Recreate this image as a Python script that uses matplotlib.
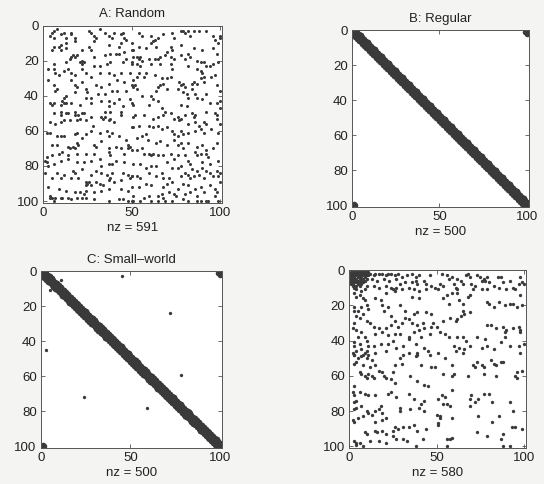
import numpy as np
import matplotlib
matplotlib.use('Agg')
import matplotlib.pyplot as plt

plt.rcParams['font.family'] = ['Liberation Sans', 'DejaVu Sans']

N = 100  # matrix size

# nonzeros, stored as (col, row), 0-based
random_nz = [
    (4,3),(5,2),(7,1),(3,5),(5,6),(9,4),(11,3),(12,6),(15,4),(15,3),(17,6),(25,2),(26,3),(28,5),(29,6),(31,1),(34,3),(36,5),(38,6),(39,3),
    (43,4),(44,3),(45,6),(46,7),(49,9),(43,9),(42,11),(36,10),(28,8),(17,8),(12,9),(9,10),(8,11),(5,11),(4,13),(9,13),(12,12),(16,16),(17,17),(15,17),
    (14,18),(18,16),(21,13),(25,11),(26,13),(28,17),(34,16),(37,15),(40,15),(42,15),(45,14),(49,13),(50,17),(46,18),(44,20),(49,21),(20,20),(21,21),(22,20),(21,19),
    (28,22),(31,22),(35,21),(37,20),(12,20),(5,21),(5,24),(2,24),(6,26),(8,27),(11,25),(13,24),(15,26),(17,27),(21,24),(23,26),(26,28),(31,26),(36,26),(39,27),
    (43,26),(48,26),(2,30),(5,33),(7,35),(15,30),(17,33),(18,34),(21,31),(23,35),(24,37),(29,33),(32,34),(36,32),(41,30),(45,31),(50,30),(49,33),(46,36),(41,36),
    (38,36),(34,38),(30,38),(26,40),(23,40),(17,37),(12,39),(11,40),(6,36),(3,43),(4,44),(5,43),(9,44),(10,42),(11,43),(12,43),(15,43),(20,44),(26,43),(32,42),
    (36,42),(39,43),(42,41),(48,41),(49,43),(44,45),(36,45),(9,48),(12,49),(17,48),(19,50),(22,49),(34,48),(37,48),(43,48),
    (53,3),(55,5),(60,5),(61,8),(62,7),(64,6),(67,4),(72,3),(73,6),(77,2),(78,2),(79,3),(81,2),(82,5),(84,2),(87,2),(91,2),(95,5),(96,7),(98,9),
    (99,6),(99,5),(50,13),(53,11),(57,12),(60,9),(63,11),(71,11),(72,13),(77,10),(81,15),(84,12),(89,13),(95,12),(97,15),(52,17),(53,18),(54,17),(55,19),(49,20),
    (59,18),(62,18),(64,18),(65,17),(68,16),(69,14),(71,17),(73,18),(77,16),(79,18),(82,17),(86,19),(88,20),(90,20),(91,22),(93,22),(95,21),(98,20),(52,21),(54,22),
    (60,21),(65,21),(71,21),(72,24),(81,22),(86,24),(88,25),(89,26),(90,28),(88,29),(53,26),(52,28),(57,26),(56,28),(62,27),(66,29),(69,29),(67,32),(71,28),(76,31),
    (77,33),(78,32),(79,34),(83,32),(84,31),(86,32),(90,31),(94,28),(96,27),(97,33),(99,36),(51,33),(50,34),(52,35),(65,33),(64,34),(63,36),(60,39),(61,41),(55,39),
    (69,35),(75,35),(78,37),(80,38),(81,40),(83,35),(85,38),(86,40),(89,41),(91,38),(93,43),(97,43),(99,42),(50,44),(59,44),(64,42),(66,46),(68,48),(71,49),(77,44),
    (80,45),(83,49),(85,50),(91,48),(96,49),(97,50),(99,46),
    (5,49),(9,50),(13,49),(17,50),(21,49),(3,54),(6,55),(9,54),(11,53),(14,53),(18,53),(20,52),(23,53),(26,51),(27,56),(32,51),(33,52),(34,51),(36,53),(37,52),
    (39,54),(43,50),(50,51),(49,57),(1,60),(3,60),(7,62),(9,62),(11,62),(17,61),(18,60),(21,63),(23,61),(26,59),(31,60),(35,59),(36,62),(38,60),(42,62),(46,64),
    (4,67),(7,67),(13,68),(14,69),(16,68),(17,69),(18,66),(19,67),(28,67),(29,68),(32,65),(36,69),(40,68),(43,69),(47,67),(48,68),(47,69),(1,74),(4,73),(8,72),
    (10,71),(13,73),(18,72),(23,72),(28,72),(36,71),(37,73),(45,72),(49,70),(0,76),(1,77),(2,79),(5,78),(9,76),(13,75),(18,77),(22,77),(26,76),(31,75),(32,79),
    (36,78),(38,78),(40,76),(45,77),(0,83),(7,83),(11,84),(16,82),(17,83),(21,81),(26,84),(29,82),(32,83),(35,84),(38,83),(44,83),(47,84),(49,85),(4,86),(9,86),
    (15,86),(19,86),(23,88),(23,90),(24,89),(25,88),(26,90),(29,88),(31,89),(33,90),(36,87),(37,86),(39,88),(43,87),(48,86),(2,91),(3,96),(8,92),(12,93),(17,94),
    (20,94),(22,95),(23,93),(28,94),(32,93),(36,92),(43,92),(47,93),(49,91),(3,97),(4,97),(6,97),(9,97),(10,97),(13,97),(15,98),(18,97),(21,97),(23,97),(28,98),
    (36,99),(42,98),(44,98),(47,99),(50,99),(5,99),
    (51,50),(56,50),(61,52),(64,51),(67,50),(73,52),(75,51),(76,53),(77,52),(79,50),(81,55),(84,51),(85,54),(87,56),(90,54),(91,55),(97,52),(99,55),(50,57),(53,56),
    (57,61),(59,56),(61,57),(64,56),(66,58),(69,57),(72,59),(73,61),(75,62),(77,59),(78,61),(81,60),(85,59),(88,58),(90,60),(94,58),(98,60),(52,63),(55,62),(58,64),
    (63,66),(65,65),(69,67),(73,64),(75,67),(77,66),(78,69),(81,66),(86,68),(89,67),(91,70),(95,69),(97,66),(52,70),(55,69),(56,72),(59,72),(60,73),(61,72),(64,73),
    (67,73),(71,72),(73,75),(75,73),(79,73),(81,76),(82,78),(85,71),(86,73),(88,72),(89,77),(91,72),(92,74),(93,78),(98,76),(50,78),(54,78),(57,80),(60,79),(63,79),
    (69,77),(72,80),(75,80),(77,79),(83,81),(86,82),(89,80),(91,82),(93,83),(97,82),(99,83),(49,85),(52,85),(54,86),(59,83),(63,85),(66,83),(67,86),(70,86),(72,88),
    (77,85),(79,83),(81,84),(82,86),(84,85),(87,84),(90,86),(95,85),(98,85),(99,88),(53,91),(57,89),(60,90),(67,91),(69,89),(75,92),(78,89),(81,90),(85,92),(88,91),
    (93,90),(96,92),(50,96),(56,97),(59,96),(64,96),(66,95),(67,97),(70,94),(73,95),(74,96),(79,95),(82,94),(86,96),(90,94),(96,96),(97,94),(54,99),(60,99),(64,99),
    (68,99),(72,99),(78,98),(81,99),(86,99),(88,99),(91,99),(92,99),(98,99),(49,99),
]

# ring lattice: each node linked to its neighbours at these offsets (wraps round)
band_offsets = [-2, -1, 0, 1, 2]

# small-world: the few long-range links seen off the band, (col, row)
shortcut_nz = [(44,2),(2,44),(10,4),(4,10),(71,23),(23,71),(77,58),(58,77),(35,32),(32,35),(82,79),(79,82)]

# last panel: hub rows/cols in the top-left, then the scatter
hub_rows = {
    0: [0,1,2,3,4,5,6,7,8,9,10],
    1: [0,2,3,4,5,6,8,9],
    2: [0,1,3,4,5,7,9,10],
    3: [0,1,2,4,6,8],
    4: [0,1,2,3,5,7,9],
    5: [0,1,3,4,6,8],
    6: [0,2,3,5,7],
    7: [0,1,4,6],
    8: [2,3,5],
}
scatter_nz = [
    (11,1),(13,2),(14,1),(16,1),(18,1),(20,2),(21,1),(23,1),(25,2),(27,1),(29,3),(32,2),(35,1),(37,3),(39,2),(42,5),(45,2),(12,4),(15,5),(19,4),
    (22,5),(26,4),(28,7),(31,6),(35,6),(37,5),(38,7),(43,7),(46,8),(13,8),(16,9),(20,8),(23,9),(24,10),(25,11),(26,9),(29,10),(33,9),(36,10),(39,11),
    (43,10),(20,12),(35,14),(39,15),(14,15),(17,16),(18,19),(19,22),(21,20),(28,19),(31,22),(36,24),(38,23),(43,23),(46,24),(23,25),(25,28),(23,30),(27,31),(29,29),
    (31,26),(33,27),(35,29),(38,30),(41,29),(42,32),(46,31),(45,35),(11,29),(13,31),(14,35),(16,32),(20,32),(18,34),(21,36),(25,35),(28,35),(33,37),(36,34),(39,33),
    (40,37),(33,38),(24,39),(21,41),(17,41),(13,42),(9,45),(7,47),(14,46),(20,45),(26,43),(30,42),(37,41),(42,43),(44,45),(38,46),
    (1,8),(2,9),(3,10),(2,12),(3,14),(5,13),(6,11),(8,10),(9,8),(7,15),(8,16),(9,19),(10,21),(6,20),(2,20),(2,22),(4,22),(3,25),(7,24),(5,26),
    (9,28),(2,29),(1,32),(3,33),(6,34),(8,37),(4,37),(2,40),(2,42),(5,41),(9,39),(10,42),(3,45),(6,44),(2,47),
    (52,1),(55,2),(56,4),(58,3),(61,4),(63,5),(66,2),(67,1),(68,3),(72,2),(74,3),(75,5),(76,4),(77,5),(78,3),(79,6),(84,3),(86,3),(87,6),(91,5),
    (97,3),(98,6),(99,7),(48,9),(51,7),(50,10),(53,8),(59,7),(60,9),(61,10),(61,12),(58,12),(55,13),(53,15),(64,7),(69,7),(71,8),(70,10),(68,13),(67,14),
    (75,10),(78,10),(82,8),(85,9),(89,10),(93,9),(94,10),(96,7),(97,13),(56,18),(62,16),(64,18),(78,17),(79,18),(82,20),(85,17),(88,19),(91,18),(93,18),(95,20),
    (98,19),(64,22),(63,25),(65,24),(68,23),(61,27),(60,28),(57,26),(53,28),(47,29),(49,31),(51,34),(54,35),(56,37),(61,37),(64,37),(66,39),(72,37),(77,38),(78,30),
    (80,30),(83,32),(87,31),(88,34),(89,33),(93,32),(96,31),(97,34),(97,33),(88,37),(86,40),(59,42),(60,45),(62,43),(65,44),(68,42),(75,43),(78,42),(82,44),(91,42),
    (96,42),(97,46),(99,41),
    (1,46),(2,47),(4,49),(6,48),(8,46),(9,49),(10,47),(12,50),(2,52),(3,51),(7,53),(5,57),(6,58),(8,59),(9,60),(10,58),(12,59),(13,60),(11,54),(14,53),
    (16,56),(18,57),(19,59),(20,60),(23,61),(25,63),(28,49),(29,52),(30,47),(33,46),(37,48),(38,47),(40,53),(45,47),(46,54),(25,53),(24,57),(34,59),(38,62),(42,64),
    (44,65),(2,65),(1,68),(2,70),(3,73),(2,74),(5,68),(8,69),(10,70),(14,70),(21,69),(23,68),(26,71),(33,69),(36,72),(40,75),(42,73),(2,78),(3,77),(6,76),
    (9,79),(10,80),(12,81),(14,79),(16,78),(17,76),(18,80),(28,77),(28,79),(34,78),(39,77),(42,79),(1,84),(2,85),(4,83),(7,82),(14,85),(18,84),(20,83),(25,88),
    (24,90),(27,89),(30,88),(33,88),(36,87),(38,90),(43,89),(8,91),(9,92),(14,90),(15,91),(18,90),(20,92),(24,93),(26,95),(30,95),(32,96),(41,95),(2,96),(3,97),
    (3,98),(5,97),(7,99),(11,96),(16,96),(20,97),(37,99),
    (50,46),(54,49),(64,46),(48,54),(58,53),(70,53),(71,54),(72,51),(75,53),(76,54),(76,58),(80,50),(82,52),(83,53),(86,51),(87,51),(94,59),(95,57),(95,60),(98,56),
    (53,58),(58,59),(59,58),(67,59),(83,59),(50,72),(52,70),(54,71),(58,67),(68,72),(69,70),(71,74),(73,72),(76,69),(79,69),(81,74),(91,74),(53,75),(55,75),(57,76),
    (68,76),(93,79),(49,81),(51,82),(51,83),(50,86),(50,87),(58,83),(73,82),(81,85),(85,82),(92,88),(94,88),(98,89),(72,91),(78,93),(87,92),(86,95),(87,99),(91,99),
    (55,95),(57,95),(58,94),(55,99),
]

titles = ['A: Random', 'B: Regular', 'C: Small\u2013world', '']
nz_labels = ['nz = 591', 'nz = 500', 'nz = 500', 'nz = 580']

# build the index lists for each panel
rnd_c = [p[0] for p in random_nz]
rnd_r = [p[1] for p in random_nz]

ring_r = []
ring_c = []
for i in range(N):
    for d in band_offsets:
        ring_r.append(i)
        ring_c.append((i + d) % N)

sc_c = [p[0] for p in shortcut_nz]
sc_r = [p[1] for p in shortcut_nz]

sf_c = []
sf_r = []
for r in hub_rows:
    for c in hub_rows[r]:
        sf_c.append(c)
        sf_r.append(r)
sf_c += [p[0] for p in scatter_nz]
sf_r += [p[1] for p in scatter_nz]

# each panel: list of (cols, rows, markersize) layers
panels = [
    [(rnd_c, rnd_r, 2.2)],
    [(ring_c, ring_r, 4.0)],
    [(ring_c, ring_r, 4.0), (sc_c, sc_r, 2.4)],
    [(sf_c, sf_r, 2.4)],
]

# axes boxes in figure fractions (from the 544x484 scan)
boxes = [
    [0.079, 0.581, 0.329, 0.366],
    [0.647, 0.572, 0.325, 0.366],
    [0.075, 0.074, 0.333, 0.366],
    [0.642, 0.074, 0.324, 0.368],
]

fig = plt.figure(figsize=(5.44, 4.84), dpi=100)
fig.patch.set_facecolor('#f4f4f2')

for k in range(4):
    ax = fig.add_axes(boxes[k])
    ax.set_facecolor('white')
    for cols, rows, ms in panels[k]:
        # spy style: 1-based indices on a 0..N+1 frame
        ax.plot(np.array(cols) + 1, np.array(rows) + 1, 'o', ms=ms, color='#3a3a3a',
                markeredgewidth=0, linestyle='none')
    ax.set_xlim(0, N + 1)
    ax.set_ylim(N + 1, 0)
    ax.set_xticks([0, 50, 100])
    ax.set_yticks([0, 20, 40, 60, 80, 100])
    ax.tick_params(direction='in', length=3, width=0.6, top=True, right=True,
                   labelsize=9.5, colors='#555555', labelcolor='#222222', pad=3)
    for s in ax.spines.values():
        s.set_color('#555555')
        s.set_linewidth(0.7)
    if titles[k]:
        ax.set_title(titles[k], fontsize=9.5, color='#222222', pad=6)
    ax.set_xlabel(nz_labels[k], fontsize=9.5, color='#222222', labelpad=2)

fig.savefig('out.png', dpi=100, facecolor=fig.get_facecolor())
